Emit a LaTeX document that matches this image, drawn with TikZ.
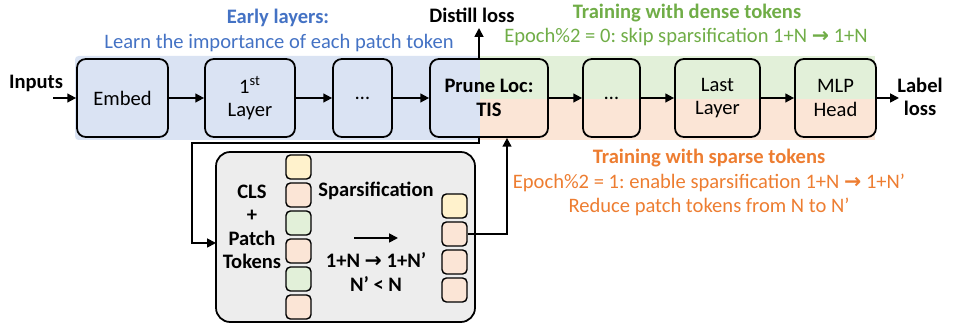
\documentclass[tikz,border=0pt]{standalone}
\usepackage{fontspec}
\setmainfont{Carlito}
\newfontfamily\arrowfont{DejaVu Sans}
\usetikzlibrary{arrows.meta}
\definecolor{bandblue}{HTML}{DAE3F3}
\definecolor{bandgreen}{HTML}{E2F0D9}
\definecolor{bandorange}{HTML}{FBE5D6}
\definecolor{tokyellow}{HTML}{FFF2CC}
\definecolor{boxgray}{HTML}{EDEDED}
\definecolor{txtblue}{HTML}{4472C4}
\definecolor{txtgreen}{HTML}{70AD47}
\definecolor{txtorange}{HTML}{ED7D31}
\newcommand{\basefont}{\fontsize{11.7}{13.3}\selectfont}
\newcommand{\tto}{{\arrowfont\bfseries →}}
\frenchspacing

\begin{document}
\begin{tikzpicture}[x=0.02cm, y=-0.02cm, line width=1pt,
    >={Triangle[length=5pt,width=5pt]},
    every node/.style={font=\basefont},
    boldtxt/.style={font=\basefont\bfseries},
    layerbox/.style={draw, rounded corners=5pt, minimum height=1.56cm, align=center},
    token/.style={draw, line width=0.8pt, rounded corners=2.5pt, minimum width=0.5cm, minimum height=0.48cm}]
        \useasboundingbox (0,0) rectangle (968,324);
        % background bands
        \fill[bandblue, rounded corners=2pt] (75,56) rectangle (482,140);
        \fill[bandgreen] (480,56) rectangle (875,99);
        \fill[bandorange] (480,99) rectangle (875,140);

        % layers
        \node[layerbox, minimum width=1.82cm] (embed) at (122.5,98) {Embed};
        \node[layerbox, minimum width=1.8cm] (layer1) at (250,98) {1\textsuperscript{st}\\Layer};
        \node[layerbox, minimum width=1.18cm] (dotsA) at (362.5,98) {\ldots};
        \node[layerbox, boldtxt, minimum width=2.36cm] (prune) at (489,98) {Prune Loc:\\TIS};
        \node[layerbox, minimum width=1.14cm] (dotsB) at (611.5,98) {\ldots};
        \node[layerbox, minimum width=1.7cm] (last) at (717.5,98) {Last\\Layer};
        \node[layerbox, minimum width=1.62cm] (head) at (835.5,98) {MLP\\Head};

        \node[boldtxt] (inputs) at (36,83) {Inputs};
        \coordinate (inA) at (53,98);
        \node[boldtxt, align=center] (labelloss) at (920,97) {Label\\loss};
        \coordinate (outA) at (899,98);
        \node[boldtxt] (distill) at (472,15) {Distill loss};
        \coordinate (dtop) at (479,28);
        \coordinate (turn) at (192,143);
        \coordinate (cin) at (216,243);
        \coordinate (upx) at (507,234);

        \draw[->] (inA) -- (embed);
        \foreach \a/\b in {embed/layer1, layer1/dotsA, dotsA/prune, prune/dotsB, dotsB/last, last/head}
            \draw[->] (\a) -- (\b);
        \draw[->] (head) -- (outA);
        \draw[->] (dtop |- prune.north) -- (dtop);

        % sparsification block
        \node[draw, fill=boxgray, rounded corners=8pt, minimum width=5.18cm, minimum height=3.4cm] (spbox) at (345.5,237) {};
        \foreach \c [count=\i] in {tokyellow, bandorange, bandgreen, bandorange, bandgreen, bandorange}
            \node[token, fill=\c] (tl\i) at (298.5,139+28*\i) {};
        \foreach \c [count=\i] in {tokyellow, bandorange, bandorange, bandorange}
            \node[token, fill=\c] (tr\i) at (454.5,178+28*\i) {};
        \node[boldtxt, align=center] (cls) at (252,227) {CLS\\+\\Patch\\Tokens};
        \node[boldtxt] (spars) at (376,191) {Sparsification};
        \coordinate (sa) at (354,238);
        \coordinate (sb) at (398,238);
        \draw[->] (sa) -- (sb);
        \node[boldtxt, align=center] (ratio) at (376,272) {1+N \tto{} 1+N’\\N’ < N};

        \draw[->] (dtop |- prune.south) -- (dtop |- turn) -- (turn) |- (cin);
        \draw[->] (tr2.east) -| (prune.south -| upx);

        % captions
        \node[boldtxt, text=txtblue] (early) at (278,18) {Early layers:};
        \node[text=txtblue] (learn) at (279,43) {Learn the importance of each patch token};
        \node[boldtxt, text=txtgreen] (dense) at (687,13) {Training with dense tokens};
        \node[text=txtgreen] (denserule) at (686,37) {Epoch\%2 = 0: skip sparsification 1+N \tto{} 1+N};
        \node[boldtxt, text=txtorange] (sparse) at (709,158) {Training with sparse tokens};
        \node[text=txtorange, align=center] (sparserule) at (709,195) {Epoch\%2 = 1: enable sparsification 1+N \tto{} 1+N’\\Reduce patch tokens from N to N’};
\end{tikzpicture}
\end{document}
